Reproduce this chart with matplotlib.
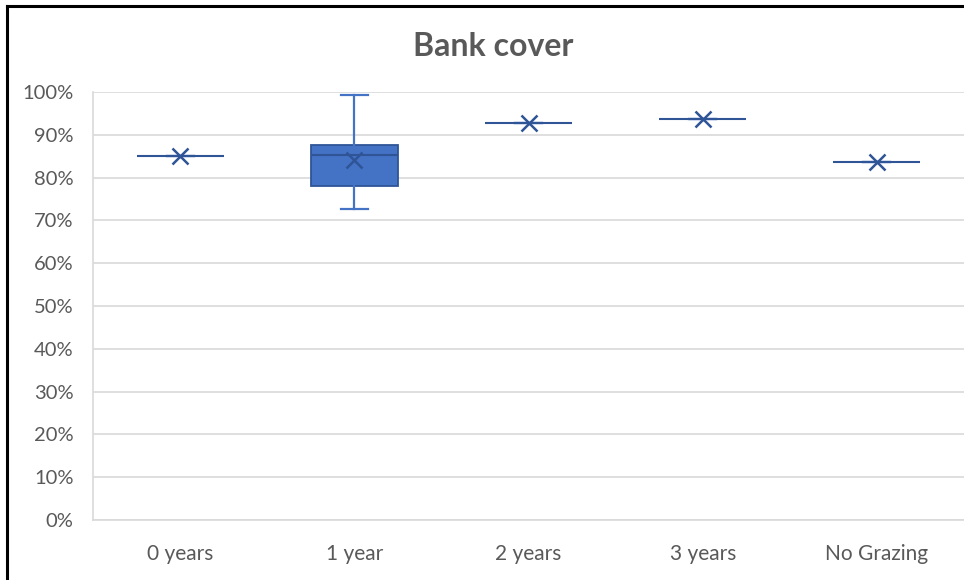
import matplotlib
matplotlib.use("Agg")
import matplotlib.pyplot as plt
from matplotlib.ticker import PercentFormatter, MultipleLocator
from matplotlib.lines import Line2D

# Grazing rest categories and the bank-cover summary for each
categories = ["0 years", "1 year", "2 years", "3 years", "No Grazing"]
whisker_low = [0.850, 0.727, 0.927, 0.936, 0.837]
quartile_1 = [0.850, 0.780, 0.927, 0.936, 0.837]
medians = [0.850, 0.853, 0.927, 0.936, 0.837]
quartile_3 = [0.850, 0.875, 0.927, 0.936, 0.837]
whisker_high = [0.850, 0.992, 0.927, 0.936, 0.837]
means = [0.850, 0.842, 0.927, 0.936, 0.837]

BLUE = "#4472C4"
DARK = "#2F5597"
GRID = "#D9D9D9"
TEXT = "#595959"

plt.rcParams["font.family"] = ["Lato", "DejaVu Sans"]

fig = plt.figure(figsize=(9.64, 5.8), dpi=100)
ax = fig.add_axes([0.0965, 0.1034, 0.9035, 0.738])

stats = []
for i, name in enumerate(categories):
    stats.append(dict(label=name, whislo=whisker_low[i], q1=quartile_1[i],
                      med=medians[i], q3=quartile_3[i], whishi=whisker_high[i],
                      mean=means[i], fliers=[]))

positions = list(range(1, len(categories) + 1))
ax.bxp(stats, positions=positions, widths=0.5, patch_artist=True,
       showmeans=True, meanline=False, capwidths=0.155,
       boxprops=dict(facecolor=BLUE, edgecolor=DARK, linewidth=1.3),
       medianprops=dict(color=DARK, linewidth=1.5),
       whiskerprops=dict(color=BLUE, linewidth=1.6),
       capprops=dict(color=BLUE, linewidth=1.6),
       meanprops=dict(marker="x", markeredgecolor=DARK, markersize=11,
                      markeredgewidth=1.8))

ax.set_xlim(0.5, len(categories) + 0.5)
ax.set_ylim(0, 1.0)
ax.yaxis.set_major_locator(MultipleLocator(0.1))
ax.yaxis.set_major_formatter(PercentFormatter(1.0, decimals=0))
ax.grid(axis="y", color=GRID, linewidth=1.2)
ax.set_axisbelow(True)

for side in ("top", "right"):
    ax.spines[side].set_visible(False)
for side in ("left", "bottom"):
    ax.spines[side].set_color(GRID)
    ax.spines[side].set_linewidth(1.2)

ax.tick_params(axis="both", length=0, labelsize=14.5, labelcolor=TEXT)
ax.tick_params(axis="y", pad=14)
ax.tick_params(axis="x", labelsize=15, pad=17)

fig.text(0.512, 0.92, "Bank cover", ha="center", va="center",
         fontsize=23, fontweight="bold", color=TEXT)

# outer frame: top and left edges
fig.add_artist(Line2D([0.0073, 1.0], [0.9895, 0.9895], transform=fig.transFigure,
                      color="black", linewidth=2.2))
fig.add_artist(Line2D([0.0073, 0.0073], [0.0, 0.9895], transform=fig.transFigure,
                      color="black", linewidth=2.2))

fig.savefig("out.png", dpi=100)
